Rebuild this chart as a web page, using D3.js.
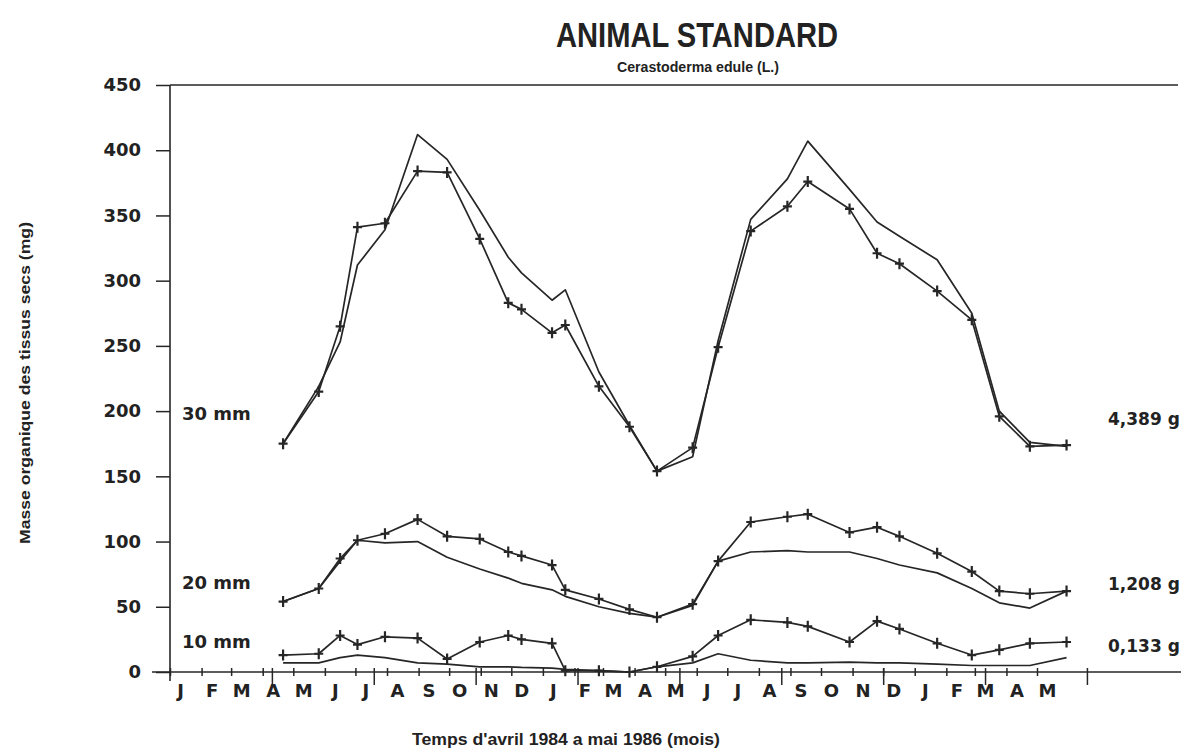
<!DOCTYPE html>
<html>
<head>
<meta charset="utf-8">
<script src="https://cdn.jsdelivr.net/npm/d3@7"></script>
<style>
  html, body { margin: 0; padding: 0; background: #fff; }
  svg text { font-family: "DejaVu Sans", sans-serif; font-weight: bold; fill: #222; }
</style>
</head>
<body>
<svg id="chart" width="1181" height="753"></svg>
<script>
// Sampling dates, April 1984 - May 1986
const sampleDates = [
  "1984-04-21","1984-05-26","1984-06-16","1984-07-03","1984-07-30","1984-08-31",
  "1984-09-29","1984-10-31","1984-11-28","1984-12-11","1985-01-10","1985-01-23",
  "1985-02-25","1985-03-27","1985-04-23","1985-05-28","1985-06-22","1985-07-24",
  "1985-08-29","1985-09-18","1985-10-29","1985-11-25","1985-12-17","1986-01-23",
  "1986-02-26","1986-03-25","1986-04-24","1986-05-30"
];

// Dry organic mass (mg): measured (+) and standard animal (plain line)
const measured30 = [175,215,265,341,344,384,383,332,283,278,260,266,219,188,154,172,249,338,357,376,355,321,313,292,270,196,173,174];
const standard30 = [175,219,253,312,339,412,393,354,318,306,285,293,230,189,154,165,254,347,378,407,370,345,334,316,275,200,176,173];
const measured20 = [54,64,87,101,106,117,104,102,92,89,82,63,56,48,42,52,85,115,119,121,107,111,104,91,77,62,60,62];
const standard20 = [54,64,85,101,99,100,88,79,72,68,63,58,50,45,42,51,85,92,93,92,92,87,82,76,64,53,49,62];
const measured10 = [13,14,28,21,27,26,10,23,28,25,22,1,1,0,4,12,28,40,38,35,23,39,33,22,13,17,22,23];
const standard10 = [7,7,11,13,11,7,6,4,4,3.5,3,2,1,0,4,7,14,9,7,7,7.5,7,7,6,5,5,5,11];

const sizeLabels = ["30 mm", "20 mm", "10 mm"];
const massLabels = ["4,389 g", "1,208 g", "0,133 g"];
const monthLabels = ["J","F","M","A","M","J","J","A","S","O","N","D",
                     "J","F","M","A","M","J","J","A","S","O","N","D",
                     "J","F","M","A","M"];
const yTicks = [0,50,100,150,200,250,300,350,400,450];
const dayMarks = [100,200,300,400,500,600,700,800,900];

const svg = d3.select("#chart");
const ink = "#262626";
const parse = d3.utcParse("%Y-%m-%d");
const dates = sampleDates.map(parse);
const t0 = new Date(Date.UTC(1984, 0, 1));

const x = d3.scaleUtc()
  .domain([t0, new Date(Date.UTC(1986, 4, 1))])
  .range([170, 1037]);
const y = d3.scaleLinear().domain([0, 450]).range([672, 85]);

// Frame: left axis, top rule, base line
svg.append("line").attr("x1", 170).attr("x2", 170).attr("y1", y(450)).attr("y2", 681)
  .attr("stroke", ink).attr("stroke-width", 1.6);
svg.append("line").attr("x1", 170).attr("x2", 1178).attr("y1", y(450)).attr("y2", y(450))
  .attr("stroke", ink).attr("stroke-width", 1.6);
svg.append("line").attr("x1", 152).attr("x2", 1181).attr("y1", y(0)).attr("y2", y(0))
  .attr("stroke", ink).attr("stroke-width", 1.6);

// Y axis
const yAxis = svg.append("g").attr("transform", "translate(170,0)")
  .call(d3.axisLeft(y).tickValues(yTicks).tickSize(14).tickPadding(15).tickFormat(d3.format("d")));
yAxis.select(".domain").remove();
yAxis.selectAll(".tick line").attr("stroke", ink).attr("stroke-width", 1.5);
yAxis.selectAll(".tick text").attr("font-size", 18).attr("fill", "#222")
  .style("font-family", "'DejaVu Sans', sans-serif").style("font-weight", "bold");

// X axis: month ticks crossing the base line, letters beside them
const months = d3.utcMonth.range(t0, new Date(Date.UTC(1986, 4, 2)));
const xAxis = svg.append("g").attr("transform", `translate(0,${y(0)})`)
  .call(d3.axisBottom(x).tickValues(months).tickSize(4).tickFormat((d, i) => monthLabels[i]));
xAxis.select(".domain").remove();
xAxis.selectAll(".tick line").attr("y1", -4).attr("y2", 4).attr("stroke", ink).attr("stroke-width", 1.5);
xAxis.selectAll(".tick text").attr("y", 25).attr("dy", 0).attr("dx", 10)
  .attr("font-size", 18).attr("fill", "#222")
  .style("font-family", "'DejaVu Sans', sans-serif").style("font-weight", "bold");

// Longer marks every 100 days
const dayAxis = svg.append("g").attr("transform", `translate(0,${y(0)})`)
  .call(d3.axisBottom(x).tickValues(dayMarks.map(d => d3.utcDay.offset(t0, d))).tickSize(13).tickFormat(""));
dayAxis.select(".domain").remove();
dayAxis.selectAll(".tick line").attr("y1", -4).attr("stroke", ink).attr("stroke-width", 1.5);

// Series
const line = d3.line().x((d, i) => x(dates[i])).y(d => y(d));
const plot = svg.append("g");
[standard30, standard20, standard10, measured30, measured20, measured10].forEach(s => {
  plot.append("path").attr("d", line(s)).attr("fill", "none")
    .attr("stroke", ink).attr("stroke-width", 1.7).attr("stroke-linejoin", "round");
});
[measured30, measured20, measured10].forEach(s => {
  plot.append("g").selectAll("path").data(s).join("path")
    .attr("transform", (d, i) => `translate(${x(dates[i])},${y(d)})`)
    .attr("d", "M-4.5,0H4.5M0,-5.5V5.5")
    .attr("stroke", ink).attr("stroke-width", 2.2);
});

// Size and mass annotations
const leftY = [420, 589, 648];
const rightY = [425, 590, 652];
svg.selectAll(".size").data(sizeLabels).join("text").attr("class", "size")
  .attr("x", 182).attr("y", (d, i) => leftY[i]).attr("font-size", 18).text(d => d);
svg.selectAll(".mass").data(massLabels).join("text").attr("class", "mass")
  .attr("x", 1108).attr("y", (d, i) => rightY[i]).attr("font-size", 17).text(d => d);

// Titles
const sans = "'Liberation Sans Narrow', 'Liberation Sans', Arial, sans-serif";
svg.append("text").attr("x", 697).attr("y", 47).attr("text-anchor", "middle")
  .attr("font-size", 35).style("font-family", sans)
  .attr("textLength", 282).attr("lengthAdjust", "spacingAndGlyphs")
  .text("ANIMAL STANDARD");
svg.append("text").attr("x", 698).attr("y", 72).attr("text-anchor", "middle")
  .attr("font-size", 14).style("font-family", "'Liberation Sans', Arial, sans-serif")
  .attr("textLength", 162).attr("lengthAdjust", "spacingAndGlyphs")
  .text("Cerastoderma edule (L.)");
svg.append("text").attr("transform", "translate(30,383) rotate(-90)").attr("text-anchor", "middle")
  .attr("font-size", 15).style("font-family", "'Liberation Sans', Arial, sans-serif")
  .attr("textLength", 322).attr("lengthAdjust", "spacingAndGlyphs")
  .text("Masse organique des tissus secs (mg)");
svg.append("text").attr("x", 566).attr("y", 745).attr("text-anchor", "middle")
  .attr("font-size", 16).style("font-family", "'Liberation Sans', Arial, sans-serif")
  .attr("textLength", 308).attr("lengthAdjust", "spacingAndGlyphs")
  .text("Temps d'avril 1984 a mai 1986 (mois)");
</script>
</body>
</html>
